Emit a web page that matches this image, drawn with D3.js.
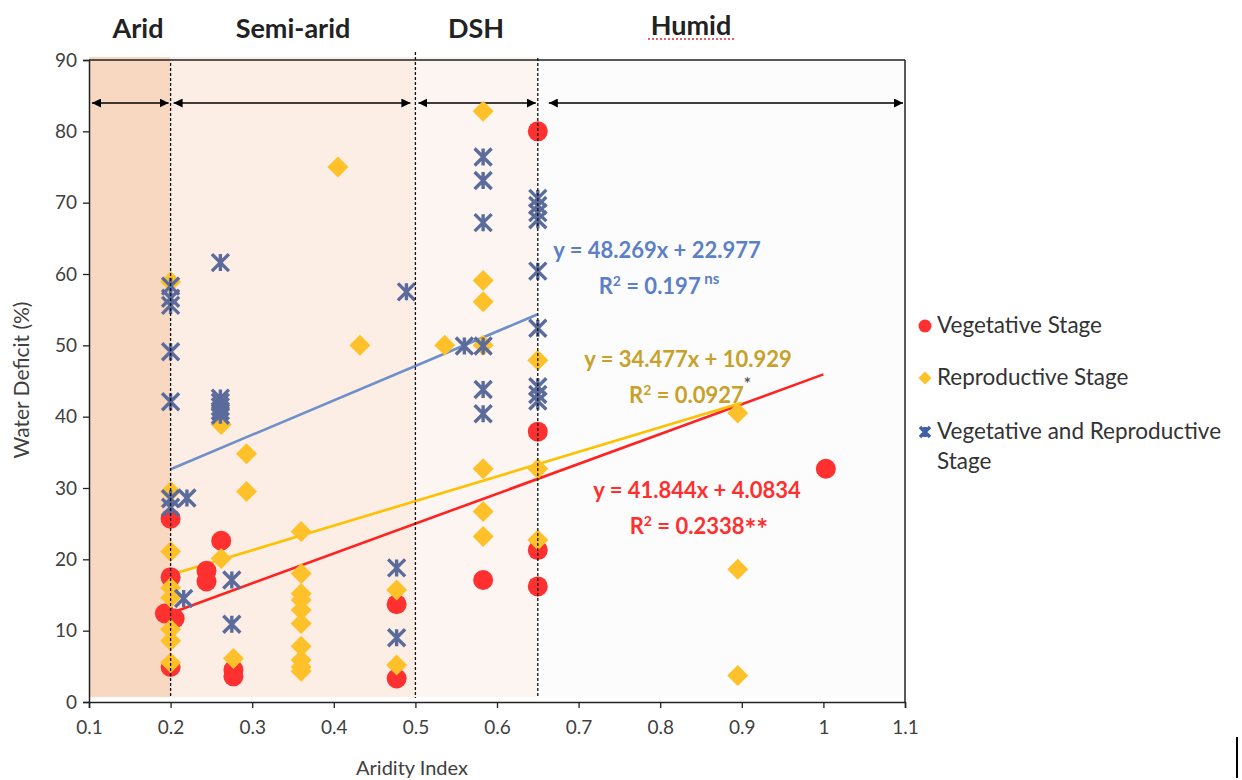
<!DOCTYPE html>
<html>
<head>
<meta charset="utf-8">
<script src="https://cdnjs.cloudflare.com/ajax/libs/d3/7.8.5/d3.min.js"></script>
<style>
  body { margin: 0; background: #fff; }
  svg { font-family: Lato, "Open Sans", sans-serif; }
</style>
</head>
<body>
<svg id="chart" width="1242" height="780"></svg>
<script>
// ---- data ----
var vegX = [0.2, 0.2, 0.193, 0.205, 0.2, 0.262, 0.244, 0.244, 0.277, 0.277, 0.477, 0.477, 0.583, 0.65, 0.65, 0.65, 0.65, 1.003];
var vegY = [25.7, 17.5, 12.4, 11.7, 4.9, 22.6, 18.4, 16.9, 4.5, 3.6, 13.7, 3.3, 17.1, 80.0, 37.9, 21.3, 16.2, 32.7];

var repX = [0.2, 0.2, 0.2, 0.2, 0.2, 0.2, 0.2, 0.2, 0.262, 0.262, 0.293, 0.293, 0.277,
            0.36, 0.36, 0.36, 0.36, 0.36, 0.36, 0.36, 0.36, 0.36, 0.36,
            0.405, 0.432, 0.477, 0.477, 0.536,
            0.583, 0.583, 0.583, 0.583, 0.583, 0.583, 0.583,
            0.65, 0.65, 0.65, 0.895, 0.895, 0.895];
var repY = [58.9, 29.5, 21.1, 16.0, 14.6, 10.2, 8.6, 5.5, 38.9, 20.1, 34.8, 29.5, 6.1,
            23.9, 18.0, 15.2, 14.3, 12.9, 11.0, 7.8, 5.9, 4.9, 4.3,
            75.0, 50.0, 15.7, 5.2, 50.0,
            82.8, 59.1, 56.1, 50.0, 32.7, 26.7, 23.2,
            47.9, 32.7, 22.7, 40.5, 18.6, 3.7];

var bothX = [0.2, 0.2, 0.2, 0.2, 0.2, 0.2, 0.2, 0.22, 0.216,
             0.261, 0.261, 0.261, 0.261, 0.261, 0.261, 0.275, 0.275,
             0.489, 0.477, 0.477, 0.56,
             0.583, 0.583, 0.583, 0.583, 0.583, 0.583,
             0.65, 0.65, 0.65, 0.65, 0.65, 0.65, 0.65, 0.65, 0.65];
var bothY = [58.3, 56.6, 55.6, 49.1, 42.1, 28.5, 27.3, 28.6, 14.5,
             61.6, 42.6, 42.0, 41.4, 40.8, 40.2, 17.1, 10.9,
             57.5, 18.8, 9.0, 49.9,
             76.4, 73.1, 67.2, 49.9, 43.8, 40.4,
             70.6, 69.6, 68.6, 67.6, 60.4, 52.4, 44.2, 43.1, 42.2];

// trend lines (series order: vegetative, reproductive, both)
var fitSlope = [41.844, 34.477, 48.269];
var fitIntercept = [4.0834, 10.929, 22.977];
var fitFrom = [0.2, 0.2, 0.2];
var fitTo = [1.0, 0.9, 0.65];

// climate zones
var zoneNames = ["Arid", "Semi-arid", "DSH", "Humid"];
var zoneFrom = [0.1, 0.2, 0.5, 0.65];
var zoneTo = [0.2, 0.5, 0.65, 1.1];
var zoneFill = ["#f8d8c1", "#fdeee5", "#fdf5f1", "#fdfcfc"];

var xTicks = [0.1, 0.2, 0.3, 0.4, 0.5, 0.6, 0.7, 0.8, 0.9, 1, 1.1];
var yTicks = [0, 10, 20, 30, 40, 50, 60, 70, 80, 90];

var legendNames = ["Vegetative Stage", "Reproductive Stage", "Vegetative and Reproductive"];

// ---- drawing ----
var svg = d3.select("#chart");
var x = d3.scaleLinear().domain([0.1, 1.1]).range([89, 905]);
var y = d3.scaleLinear().domain([0, 90]).range([702, 60]);

var RED = "#ff3030", GOLD = "#ffc12a", BLUE = "#5a6b9c";

svg.append("defs").append("marker")
    .attr("id", "head").attr("viewBox", "0 0 10 10")
    .attr("refX", 10).attr("refY", 5)
    .attr("markerWidth", 9).attr("markerHeight", 9)
    .attr("markerUnits", "userSpaceOnUse")
    .attr("orient", "auto-start-reverse")
  .append("path").attr("d", "M0,0 L10,5 L0,10 z").attr("fill", "#000");

// zone shading
svg.selectAll("rect.zone").data(zoneNames).enter().append("rect")
    .attr("class", "zone")
    .attr("x", function(d, i) { return x(zoneFrom[i]); })
    .attr("width", function(d, i) { return x(zoneTo[i]) - x(zoneFrom[i]); })
    .attr("y", 57).attr("height", 640)
    .attr("fill", function(d, i) { return zoneFill[i]; });

// top line and right border
svg.append("line").attr("x1", x(0.1)).attr("x2", x(1.1)).attr("y1", y(90)).attr("y2", y(90))
    .attr("stroke", "#222").attr("stroke-width", 1.5);
svg.append("line").attr("x1", x(1.1)).attr("x2", x(1.1)).attr("y1", y(90)).attr("y2", y(0))
    .attr("stroke", "#222").attr("stroke-width", 1.5);

// zone arrows
svg.selectAll("line.arrow").data(zoneNames).enter().append("line")
    .attr("class", "arrow")
    .attr("x1", function(d, i) { return x(zoneFrom[i]) + (i == 3 ? 11 : 3); })
    .attr("x2", function(d, i) { return x(zoneTo[i]) - (i == 1 ? 5 : 2); })
    .attr("y1", 103).attr("y2", 103)
    .attr("stroke", "#000").attr("stroke-width", 1.6)
    .attr("marker-start", "url(#head)").attr("marker-end", "url(#head)");

// zone titles
var titleX = [138, 293, 476, 691];
var titleY = [38, 38, 38, 35];
svg.selectAll("text.zone").data(zoneNames).enter().append("text")
    .attr("class", "zone")
    .attr("x", function(d, i) { return titleX[i]; })
    .attr("y", function(d, i) { return titleY[i]; })
    .attr("text-anchor", "middle")
    .attr("font-size", 27).attr("font-weight", "bold").attr("fill", "#222")
    .text(function(d) { return d; });
// spell-check squiggle under "Humid"
svg.append("line").attr("x1", 648).attr("x2", 734).attr("y1", 39).attr("y2", 39)
    .attr("stroke", "#e03030").attr("stroke-width", 1.3).attr("stroke-dasharray", "2,2");

// trend lines
var fitColor = ["#ff2222", "#ffc000", "#6f8fca"];
svg.selectAll("line.fit").data(fitSlope).enter().append("line")
    .attr("class", "fit")
    .attr("x1", function(d, i) { return x(fitFrom[i]); })
    .attr("x2", function(d, i) { return x(fitTo[i]); })
    .attr("y1", function(d, i) { return y(d * fitFrom[i] + fitIntercept[i]); })
    .attr("y2", function(d, i) { return y(d * fitTo[i] + fitIntercept[i]); })
    .attr("stroke", function(d, i) { return fitColor[i]; })
    .attr("stroke-width", 2.6);

// markers
function starPath(s) {
  return "M" + (-s) + "," + (-s) + "L" + s + "," + s +
         "M" + (-s) + "," + s + "L" + s + "," + (-s) +
         "M0," + (-s) + "L0," + s;
}
function diamondPath(s) {
  return "M0," + (-s) + "L" + s + ",0L0," + s + "L" + (-s) + ",0Z";
}

svg.append("g").selectAll("circle").data(vegX).enter().append("circle")
    .attr("cx", function(d) { return x(d); })
    .attr("cy", function(d, i) { return y(vegY[i]); })
    .attr("r", 10).attr("fill", RED);

svg.append("g").selectAll("path").data(repX).enter().append("path")
    .attr("transform", function(d, i) { return "translate(" + x(d) + "," + y(repY[i]) + ")"; })
    .attr("d", diamondPath(10.5)).attr("fill", GOLD);

svg.append("g").selectAll("path").data(bothX).enter().append("path")
    .attr("transform", function(d, i) { return "translate(" + x(d) + "," + y(bothY[i]) + ")"; })
    .attr("d", starPath(8.5)).attr("fill", "none")
    .attr("stroke", BLUE).attr("stroke-width", 3.4);

// dashed zone borders (drawn on top of the markers like the original)
var dashTop = [63, 52, 58];
svg.selectAll("line.dash").data([0.2, 0.5, 0.65]).enter().append("line")
    .attr("class", "dash")
    .attr("x1", function(d) { return x(d); }).attr("x2", function(d) { return x(d); })
    .attr("y1", function(d, i) { return dashTop[i]; }).attr("y2", 698)
    .attr("stroke", "#111").attr("stroke-width", 1.3).attr("stroke-dasharray", "3,2");

// axes
var yAxis = svg.append("g").attr("transform", "translate(" + x(0.1) + ",0)")
    .call(d3.axisLeft(y).tickValues(yTicks).tickSize(6).tickPadding(6).tickFormat(d3.format("d")));
var xAxis = svg.append("g").attr("transform", "translate(0," + y(0) + ")")
    .call(d3.axisBottom(x).tickValues(xTicks).tickSize(6).tickPadding(13).tickFormat(function(d) { return String(d); }));
[yAxis, xAxis].forEach(function(a) {
  a.select(".domain").attr("stroke", "#222").attr("stroke-width", 1.5);
  a.selectAll(".tick line").attr("stroke", "#222").attr("stroke-width", 1.3);
  a.selectAll(".tick text").attr("font-size", 19).attr("fill", "#404040")
      .attr("font-family", "Lato, 'Open Sans', sans-serif");
});

svg.append("text").attr("transform", "translate(29,380) rotate(-90)")
    .attr("text-anchor", "middle").attr("font-size", 21).attr("fill", "#404040")
    .text("Water Deficit (%)");
svg.append("text").attr("x", 412).attr("y", 775)
    .attr("text-anchor", "middle").attr("font-size", 20).attr("fill", "#404040")
    .text("Aridity Index");

// equations
function equation(cx, cy, color, eq, r2, note, noteColor, noteSize, noteDy) {
  svg.append("text").attr("x", cx).attr("y", cy).attr("text-anchor", "middle")
      .attr("font-size", 22).attr("font-weight", "bold").attr("fill", color).text(eq);
  var t = svg.append("text").attr("x", cx + 2).attr("y", cy + 36).attr("text-anchor", "middle")
      .attr("font-size", 22).attr("font-weight", "bold").attr("fill", color);
  t.append("tspan").text("R");
  t.append("tspan").attr("font-size", 14).attr("dy", -8).text("2");
  t.append("tspan").attr("dy", 8).text(" = " + r2);
  t.append("tspan").attr("font-size", noteSize).attr("dy", noteDy).attr("fill", noteColor).text(note);
}
equation(657, 258, "#5b80c8", "y = 48.269x + 22.977", "0.197", " ns", "#5b80c8", 15, -10);
equation(688, 367, "#c7a12a", "y = 34.477x + 10.929", "0.0927", "*", "#555", 17, -13);
equation(697, 498, "#ff2f2f", "y = 41.844x + 4.0834", "0.2338", "**", "#ff2f2f", 28, 5);

// legend
var legY = [326, 378, 432];
var leg = svg.append("g");
leg.append("circle").attr("cx", 925).attr("cy", legY[0]).attr("r", 6.5).attr("fill", RED);
leg.append("path").attr("transform", "translate(925," + legY[1] + ")").attr("d", diamondPath(6.5)).attr("fill", GOLD);
leg.append("path").attr("transform", "translate(925," + legY[2] + ")").attr("d", starPath(5)).attr("fill", "none")
    .attr("stroke", "#3f5fa8").attr("stroke-width", 3.5);
leg.selectAll("text").data(legendNames).enter().append("text")
    .attr("x", 937).attr("y", function(d, i) { return legY[i] + 7; })
    .attr("font-size", 22.5).attr("fill", "#333")
    .text(function(d) { return d; });
leg.append("text").attr("x", 937).attr("y", legY[2] + 37).attr("font-size", 22.5).attr("fill", "#333").text("Stage");

// stray cursor mark at the lower right of the original
svg.append("line").attr("x1", 1237).attr("x2", 1237).attr("y1", 737).attr("y2", 778)
    .attr("stroke", "#000").attr("stroke-width", 2);
</script>
</body>
</html>
